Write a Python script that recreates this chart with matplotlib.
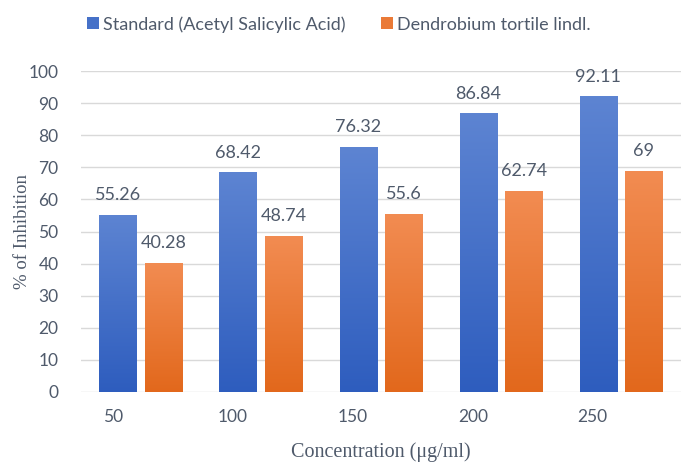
import numpy as np
import matplotlib
matplotlib.use("Agg")
import matplotlib.pyplot as plt
from matplotlib.colors import LinearSegmentedColormap

concentrations = ["50", "100", "150", "200", "250"]
standard = [55.26, 68.42, 76.32, 86.84, 92.11]
dendrobium = [40.28, 48.74, 55.6, 62.74, 69]
standard_labels = ["55.26", "68.42", "76.32", "86.84", "92.11"]
dendrobium_labels = ["40.28", "48.74", "55.6", "62.74", "69"]

text_color = "#4F5A6B"
sans = "Lato"
serif = "Liberation Serif"

blue_map = LinearSegmentedColormap.from_list("b", ["#2E5DBE", "#5D84D2"])
orange_map = LinearSegmentedColormap.from_list("o", ["#E2681C", "#F28C52"])

fig = plt.figure(figsize=(6.91, 4.66), dpi=100)
ax = fig.add_axes([0.117, 0.1588, 0.8685, 0.6888])

x = np.arange(len(concentrations))
width = 0.31
offset = 0.19


def gradient_bars(xs, heights, cmap, label):
    bars = ax.bar(xs, heights, width, color=cmap(0.5), label=label, zorder=2)
    grad = np.linspace(0, 1, 256).reshape(-1, 1)
    for b in bars:
        x0 = b.get_x()
        h = b.get_height()
        im = ax.imshow(grad, cmap=cmap, origin="lower", aspect="auto",
                       extent=[x0, x0 + b.get_width(), 0, h], zorder=2.5)
        im.set_clip_path(b)
    return bars


gradient_bars(x - offset, standard, blue_map, "Standard (Acetyl Salicylic Acid)")
gradient_bars(x + offset, dendrobium, orange_map, "Dendrobium tortile lindl.")

for xi, v, s in zip(x - offset, standard, standard_labels):
    ax.text(xi, v + 3.6, s, ha="center", va="bottom", fontsize=13,
            color=text_color, family=sans)
for xi, v, s in zip(x + offset, dendrobium, dendrobium_labels):
    ax.text(xi, v + 3.6, s, ha="center", va="bottom", fontsize=13,
            color=text_color, family=sans)

ax.set_xlim(-0.5, len(concentrations) - 0.5)
ax.set_ylim(0, 100)
ax.set_yticks(range(0, 101, 10))
ax.set_xticks(x - 0.235)
ax.set_xticklabels(concentrations)
ax.tick_params(axis="both", length=0, labelsize=12.5, labelcolor=text_color)
ax.tick_params(axis="y", pad=16)
ax.tick_params(axis="x", pad=12)
for lab in ax.get_xticklabels() + ax.get_yticklabels():
    lab.set_family(sans)

ax.grid(axis="y", color="#D9D9D9", linewidth=1, zorder=0)
ax.set_axisbelow(True)
for sp in ax.spines.values():
    sp.set_visible(False)

ax.set_ylabel("% of Inhibition", family=serif, fontsize=13.5, color=text_color, labelpad=-2)
ax.set_xlabel("Concentration (\u03bcg/ml)", family=serif, fontsize=14.5, color=text_color, labelpad=13)

leg = fig.legend(loc="upper left", bbox_to_anchor=(0.103, 1.0), ncol=2, frameon=False,
                 prop={"family": sans, "size": 13}, handlelength=0.65, handleheight=0.65,
                 handletextpad=0.2, columnspacing=2.0)
for t in leg.get_texts():
    t.set_color(text_color)

fig.savefig("out.png", dpi=100)
